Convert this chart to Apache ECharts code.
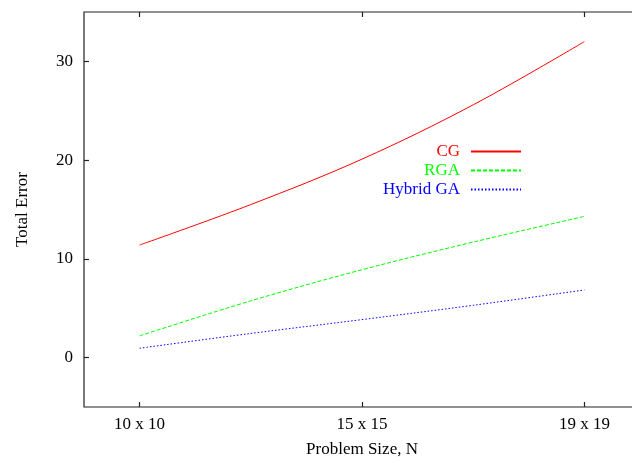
<!DOCTYPE html>
<html>
<head>
    <meta charset="UTF-8"/>
    <title>Total Error vs Problem Size</title>
    <script type="text/javascript" src="https://cdn.jsdelivr.net/npm/echarts@6/dist/echarts.min.js"></script>
    <style>
        html, body { margin: 0; padding: 0; background: #fff; overflow: hidden; }
        #chart { width: 632px; height: 463px; }
    </style>
</head>
<body>
<div id="chart"></div>
<script>
    // problem sizes (evenly spaced on the x axis)
    var categories = ['10 x 10', '15 x 15', '19 x 19'];
    // sample positions (0 = first size, 2 = last size)
    var xPos = [0, 0.5, 1, 1.5, 2];
    var cg = [11.4, 15.5, 20.1, 25.6, 32.0];
    var rga = [2.2, 5.75, 8.9, 11.7, 14.3];
    var hybrid = [0.95, 2.45, 3.85, 5.3, 6.85];
    var yTicks = [0, 10, 20, 30];

    var font = 'Liberation Serif';

    function pairs(ys) {
        var out = [];
        for (var i = 0; i < xPos.length; i++) {
            out.push([xPos[i], ys[i]]);
        }
        return out;
    }

    function mkSeries(name, ys, color, dash) {
        return {
            name: name,
            type: 'line',
            data: pairs(ys),
            smooth: 0.35,
            symbol: 'none',
            lineStyle: { color: color, width: 1, type: dash },
            itemStyle: { color: color },
            emphasis: { disabled: true }
        };
    }

    // the frame comes from the grid border, so the axis lines stay hidden
    var noLine = { show: false, onZero: false };
    var tick = function (vals) {
        return { inside: true, length: 5, customValues: vals, lineStyle: { color: '#222', width: 1.2 } };
    };

    var chart = echarts.init(document.getElementById('chart'));
    chart.setOption({
        animation: false,
        backgroundColor: '#fff',
        textStyle: { fontFamily: font },
        // the plot box runs past the right edge of the picture
        grid: {
            left: 84, top: 12, width: 556, height: 395, outerBoundsMode: 'none',
            show: true, borderColor: '#222', borderWidth: 1.2, backgroundColor: 'transparent'
        },
        legend: {
            orient: 'vertical',
            right: 105,
            top: 138,
            align: 'right',
            itemWidth: 50,
            itemHeight: 14,
            itemGap: 2,
            itemStyle: { opacity: 0 },
            textStyle: { fontFamily: font, fontSize: 17, padding: [0, 6, 0, 0] },
            data: [
                { name: 'CG', textStyle: { color: '#ff0000' } },
                { name: 'RGA', textStyle: { color: '#00ff00' } },
                { name: 'Hybrid GA', textStyle: { color: '#0000ff' } }
            ]
        },
        xAxis: [{
            type: 'value',
            min: -0.25,
            max: 2.25,
            name: 'Problem Size, N',
            nameLocation: 'middle',
            nameGap: 34,
            nameTextStyle: { fontFamily: font, fontSize: 17, color: '#000' },
            axisLine: noLine,
            splitLine: { show: false },
            axisTick: tick([0, 1, 2]),
            axisLabel: {
                customValues: [0, 1, 2],
                margin: 9,
                fontFamily: font, fontSize: 17, color: '#000',
                formatter: function (v) { return categories[Math.round(v)]; }
            }
        }, {
            type: 'value',
            position: 'top',
            min: -0.25,
            max: 2.25,
            axisLine: noLine,
            splitLine: { show: false },
            axisTick: tick([0, 1, 2]),
            axisLabel: { show: false }
        }],
        yAxis: {
            type: 'value',
            min: -5,
            max: 35,
            name: 'Total Error',
            nameLocation: 'middle',
            nameGap: 53,
            nameTextStyle: { fontFamily: font, fontSize: 17, color: '#000' },
            axisLine: noLine,
            splitLine: { show: false },
            axisTick: tick(yTicks),
            axisLabel: { customValues: yTicks, margin: 11, fontFamily: font, fontSize: 17, color: '#000' }
        },
        series: [
            mkSeries('CG', cg, '#ff0000', 'solid'),
            mkSeries('RGA', rga, '#00ff00', [4, 2]),
            mkSeries('Hybrid GA', hybrid, '#0000ff', [1.5, 2])
        ]
    });
</script>
</body>
</html>
